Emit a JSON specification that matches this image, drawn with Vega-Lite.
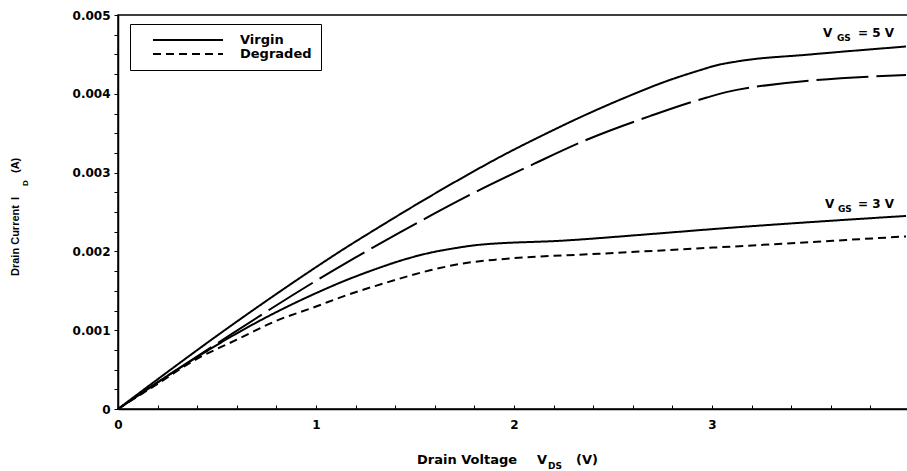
{
  "$schema": "https://vega.github.io/schema/vega-lite/v6.json",
  "autosize": {"type": "none"},
  "padding": {"left": 118, "top": 15, "right": 0, "bottom": 62},
  "width": 792,
  "height": 394,
  "background": "white",
  "config": {
    "view": {"stroke": "black", "strokeWidth": 1.5},
    "axis": {"domainColor": "black", "domainWidth": 1.5, "tickColor": "black", "tickWidth": 1, "grid": false, "labelColor": "black", "labelFont": "DejaVu Sans", "labelFontWeight": "bold", "labelFontSize": 12}
  },
  "datasets": {
    "curves": [
      {"V": 0, "I": 0, "series": "V5_virgin", "cond": "Virgin"},
      {"V": 0.25, "I": 0.00047, "series": "V5_virgin", "cond": "Virgin"},
      {"V": 0.5, "I": 0.00093, "series": "V5_virgin", "cond": "Virgin"},
      {"V": 0.8, "I": 0.00146, "series": "V5_virgin", "cond": "Virgin"},
      {"V": 1.0, "I": 0.0018, "series": "V5_virgin", "cond": "Virgin"},
      {"V": 1.14, "I": 0.00203, "series": "V5_virgin", "cond": "Virgin"},
      {"V": 1.3, "I": 0.00228, "series": "V5_virgin", "cond": "Virgin"},
      {"V": 1.51, "I": 0.0026, "series": "V5_virgin", "cond": "Virgin"},
      {"V": 1.75, "I": 0.00295, "series": "V5_virgin", "cond": "Virgin"},
      {"V": 1.93, "I": 0.0032, "series": "V5_virgin", "cond": "Virgin"},
      {"V": 2.15, "I": 0.00348, "series": "V5_virgin", "cond": "Virgin"},
      {"V": 2.35, "I": 0.00372, "series": "V5_virgin", "cond": "Virgin"},
      {"V": 2.55, "I": 0.00394, "series": "V5_virgin", "cond": "Virgin"},
      {"V": 2.77, "I": 0.00416, "series": "V5_virgin", "cond": "Virgin"},
      {"V": 2.94, "I": 0.0043, "series": "V5_virgin", "cond": "Virgin"},
      {"V": 3.02, "I": 0.00436, "series": "V5_virgin", "cond": "Virgin"},
      {"V": 3.125, "I": 0.00441, "series": "V5_virgin", "cond": "Virgin"},
      {"V": 3.5, "I": 0.0045, "series": "V5_virgin", "cond": "Virgin"},
      {"V": 3.98, "I": 0.0046, "series": "V5_virgin", "cond": "Virgin"},
      {"V": 0, "I": 0, "series": "V5_degraded", "cond": "Degraded"},
      {"V": 0.25, "I": 0.00042, "series": "V5_degraded", "cond": "Degraded"},
      {"V": 0.5, "I": 0.00083, "series": "V5_degraded", "cond": "Degraded"},
      {"V": 0.885, "I": 0.00145, "series": "V5_degraded", "cond": "Degraded"},
      {"V": 1.088, "I": 0.00176, "series": "V5_degraded", "cond": "Degraded"},
      {"V": 1.205, "I": 0.00193, "series": "V5_degraded", "cond": "Degraded"},
      {"V": 1.424, "I": 0.00224, "series": "V5_degraded", "cond": "Degraded"},
      {"V": 1.576, "I": 0.00245, "series": "V5_degraded", "cond": "Degraded"},
      {"V": 1.795, "I": 0.00274, "series": "V5_degraded", "cond": "Degraded"},
      {"V": 2.1, "I": 0.00311, "series": "V5_degraded", "cond": "Degraded"},
      {"V": 2.38, "I": 0.00343, "series": "V5_degraded", "cond": "Degraded"},
      {"V": 2.69, "I": 0.00372, "series": "V5_degraded", "cond": "Degraded"},
      {"V": 2.97, "I": 0.00395, "series": "V5_degraded", "cond": "Degraded"},
      {"V": 3.125, "I": 0.00405, "series": "V5_degraded", "cond": "Degraded"},
      {"V": 3.98, "I": 0.00424, "series": "V5_degraded", "cond": "Degraded"},
      {"V": 0, "I": 0, "series": "V3_virgin", "cond": "Virgin"},
      {"V": 0.2, "I": 0.00034, "series": "V3_virgin", "cond": "Virgin"},
      {"V": 0.4, "I": 0.00066, "series": "V3_virgin", "cond": "Virgin"},
      {"V": 0.6, "I": 0.00096, "series": "V3_virgin", "cond": "Virgin"},
      {"V": 0.8, "I": 0.00123, "series": "V3_virgin", "cond": "Virgin"},
      {"V": 1.0, "I": 0.00147, "series": "V3_virgin", "cond": "Virgin"},
      {"V": 1.138, "I": 0.00162, "series": "V3_virgin", "cond": "Virgin"},
      {"V": 1.306, "I": 0.00178, "series": "V3_virgin", "cond": "Virgin"},
      {"V": 1.45, "I": 0.0019, "series": "V3_virgin", "cond": "Virgin"},
      {"V": 1.59, "I": 0.00199, "series": "V3_virgin", "cond": "Virgin"},
      {"V": 1.7, "I": 0.00204, "series": "V3_virgin", "cond": "Virgin"},
      {"V": 1.81, "I": 0.00208, "series": "V3_virgin", "cond": "Virgin"},
      {"V": 2.27, "I": 0.00214, "series": "V3_virgin", "cond": "Virgin"},
      {"V": 2.69, "I": 0.00222, "series": "V3_virgin", "cond": "Virgin"},
      {"V": 3.04, "I": 0.00229, "series": "V3_virgin", "cond": "Virgin"},
      {"V": 3.98, "I": 0.00245, "series": "V3_virgin", "cond": "Virgin"},
      {"V": 0, "I": 0, "series": "V3_degraded", "cond": "Degraded"},
      {"V": 0.2, "I": 0.00032, "series": "V3_degraded", "cond": "Degraded"},
      {"V": 0.38, "I": 0.00061, "series": "V3_degraded", "cond": "Degraded"},
      {"V": 0.6, "I": 0.00088, "series": "V3_degraded", "cond": "Degraded"},
      {"V": 0.8, "I": 0.00112, "series": "V3_degraded", "cond": "Degraded"},
      {"V": 1.0, "I": 0.0013, "series": "V3_degraded", "cond": "Degraded"},
      {"V": 1.138, "I": 0.00143, "series": "V3_degraded", "cond": "Degraded"},
      {"V": 1.35, "I": 0.0016, "series": "V3_degraded", "cond": "Degraded"},
      {"V": 1.576, "I": 0.00176, "series": "V3_degraded", "cond": "Degraded"},
      {"V": 1.75, "I": 0.00185, "series": "V3_degraded", "cond": "Degraded"},
      {"V": 1.93, "I": 0.0019, "series": "V3_degraded", "cond": "Degraded"},
      {"V": 2.43, "I": 0.00197, "series": "V3_degraded", "cond": "Degraded"},
      {"V": 3.02, "I": 0.00205, "series": "V3_degraded", "cond": "Degraded"},
      {"V": 3.98, "I": 0.00219, "series": "V3_degraded", "cond": "Degraded"}
    ],
    "labels": [
      {"t": "V", "V": 3.561, "I": 0.004772, "kind": "main"},
      {"t": "GS", "V": 3.631, "I": 0.004708, "kind": "sub"},
      {"t": "= 5 V", "V": 3.737, "I": 0.004772, "kind": "main"},
      {"t": "V", "V": 3.571, "I": 0.002602, "kind": "main"},
      {"t": "GS", "V": 3.636, "I": 0.002538, "kind": "sub"},
      {"t": "= 3 V", "V": 3.737, "I": 0.002602, "kind": "main"},
      {"t": "Drain Voltage", "V": 1.51, "I": -0.000647, "kind": "xmain"},
      {"t": "V", "V": 2.116, "I": -0.000647, "kind": "xmain"},
      {"t": "DS", "V": 2.172, "I": -0.000723, "kind": "sub"},
      {"t": "(V)", "V": 2.313, "I": -0.000647, "kind": "xmain"},
      {"t": "Drain Current", "V": -0.515, "I": 0.001688, "kind": "ymain"},
      {"t": "I", "V": -0.515, "I": 0.002652, "kind": "ymain"},
      {"t": "D", "V": -0.465, "I": 0.00283, "kind": "ysub"},
      {"t": "(A)", "V": -0.515, "I": 0.002995, "kind": "ymain"}
    ]
  },
  "encoding": {
    "x": {
      "field": "V", "type": "quantitative",
      "scale": {"domain": [0, 4], "nice": false, "zero": false},
      "axis": {
        "title": null,
        "values": [0, 0.2, 0.4, 0.6, 0.8, 1, 1.2, 1.4, 1.6, 1.8, 2, 2.2, 2.4, 2.6, 2.8, 3, 3.2, 3.4, 3.6, 3.8],
        "labelExpr": "abs(datum.value - round(datum.value)) < 0.001 ? format(round(datum.value), 'd') : ''",
        "tickSize": -4,
        "labelPadding": 14,
        "labelFlush": false
      }
    },
    "y": {
      "field": "I", "type": "quantitative",
      "scale": {"domain": [0, 0.005], "nice": false, "zero": false},
      "axis": {
        "title": null,
        "values": [0, 0.00025, 0.0005, 0.00075, 0.001, 0.00125, 0.0015, 0.00175, 0.002, 0.00225, 0.0025, 0.00275, 0.003, 0.00325, 0.0035, 0.00375, 0.004, 0.00425, 0.0045, 0.00475, 0.005],
        "labelExpr": "abs(datum.value*1000 - round(datum.value*1000)) < 0.001 ? (datum.value == 0 ? '0' : format(datum.value, '.3f')) : ''",
        "tickSize": 4,
        "labelPadding": 4,
        "labelFlush": false
      }
    }
  },
  "layer": [
    {
      "data": {"name": "curves"},
      "transform": [{"filter": "datum.series != 'V5_degraded'"}],
      "mark": {"type": "line", "color": "black", "strokeWidth": 2, "interpolate": "monotone"},
      "encoding": {
        "detail": {"field": "series"},
        "strokeDash": {
          "field": "cond", "type": "nominal",
          "scale": {"domain": ["Virgin", "Degraded"], "range": [[1, 0], [8, 5]]},
          "legend": {
            "title": null,
            "orient": "none",
            "legendX": 12,
            "legendY": 9,
            "symbolType": "stroke",
            "symbolSize": 4900,
            "symbolStrokeWidth": 2,
            "symbolStrokeColor": "black",
            "symbolOffset": 13,
            "clipHeight": 14,
            "labelFont": "DejaVu Sans",
            "labelFontWeight": "bold",
            "labelFontSize": 13,
            "labelColor": "black",
            "labelOffset": 16,
            "padding": 9,
            "rowPadding": 0,
            "strokeColor": "black",
            "fillColor": "white"
          }
        }
      }
    },
    {
      "data": {"name": "curves"},
      "transform": [{"filter": "datum.series == 'V5_degraded'"}],
      "mark": {"type": "line", "color": "black", "strokeWidth": 2, "interpolate": "monotone", "strokeDash": [52, 8]},
      "encoding": {}
    },
    {
      "data": {"name": "labels"},
      "transform": [{"filter": "datum.kind == 'main'"}],
      "mark": {"type": "text", "align": "left", "baseline": "middle", "font": "DejaVu Sans", "fontWeight": "bold", "fontSize": 12, "color": "black"},
      "encoding": {"text": {"field": "t"}}
    },
    {
      "data": {"name": "labels"},
      "transform": [{"filter": "datum.kind == 'xmain'"}],
      "mark": {"type": "text", "align": "left", "baseline": "middle", "font": "DejaVu Sans", "fontWeight": "bold", "fontSize": 13, "color": "black"},
      "encoding": {"text": {"field": "t"}}
    },
    {
      "data": {"name": "labels"},
      "transform": [{"filter": "datum.kind == 'sub'"}],
      "mark": {"type": "text", "align": "left", "baseline": "middle", "font": "DejaVu Sans", "fontWeight": "bold", "fontSize": 9, "color": "black"},
      "encoding": {"text": {"field": "t"}}
    },
    {
      "data": {"name": "labels"},
      "transform": [{"filter": "datum.kind == 'ymain'"}],
      "mark": {"type": "text", "align": "left", "baseline": "middle", "angle": 270, "font": "Liberation Sans", "fontWeight": "bold", "fontSize": 11, "color": "black"},
      "encoding": {"text": {"field": "t"}}
    },
    {
      "data": {"name": "labels"},
      "transform": [{"filter": "datum.kind == 'ysub'"}],
      "mark": {"type": "text", "align": "left", "baseline": "middle", "angle": 270, "font": "Liberation Sans", "fontWeight": "bold", "fontSize": 8, "color": "black"},
      "encoding": {"text": {"field": "t"}}
    }
  ]
}
